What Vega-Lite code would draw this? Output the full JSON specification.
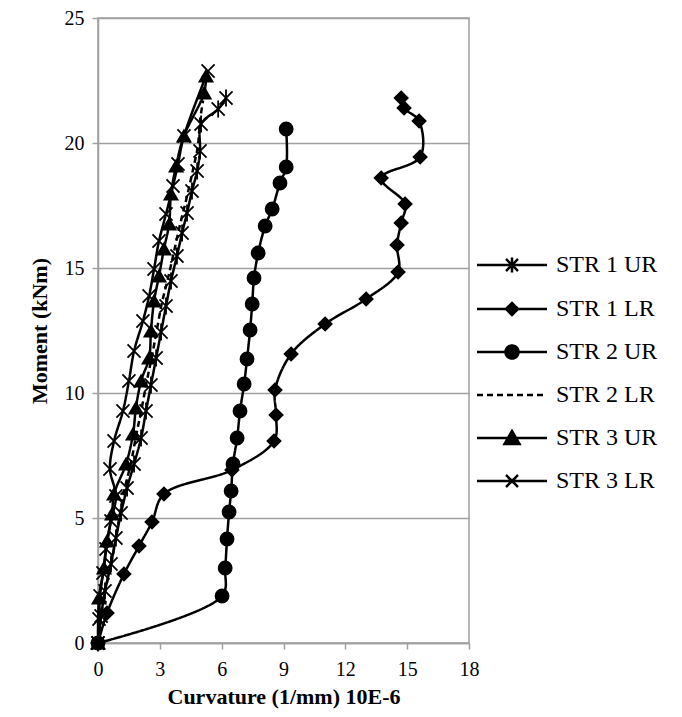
{
  "$schema": "https://vega.github.io/schema/vega-lite/v6.json",
  "width": 371,
  "height": 625,
  "padding": {"left": 28, "top": 8, "right": 5, "bottom": 5},
  "background": "white",
  "config": {
    "font": "Times New Roman, Liberation Serif, DejaVu Serif, serif",
    "view": {"stroke": "#a0a0a0", "strokeWidth": 1.5},
    "axis": {
      "labelFont": "Times New Roman, Liberation Serif, DejaVu Serif, serif",
      "labelFontSize": 20,
      "labelColor": "black",
      "titleFont": "Times New Roman, Liberation Serif, DejaVu Serif, serif",
      "titleFontSize": 22,
      "titleFontWeight": "bold",
      "titleColor": "black",
      "domainColor": "#a0a0a0",
      "domainWidth": 1.5,
      "tickColor": "#a0a0a0",
      "tickWidth": 1.5,
      "tickSize": 6,
      "gridColor": "#a0a0a0",
      "gridWidth": 1.5
    },
    "legend": {
      "labelFont": "Times New Roman, Liberation Serif, DejaVu Serif, serif"
    }
  },
  "data": {
    "values": [
      {"s": "STR 1 UR", "i": 0, "x": 0, "y": 0},
      {"s": "STR 1 UR", "i": 1, "x": 0.15, "y": 1.08},
      {"s": "STR 1 UR", "i": 2, "x": 0.34, "y": 2.08},
      {"s": "STR 1 UR", "i": 3, "x": 0.63, "y": 3.16},
      {"s": "STR 1 UR", "i": 4, "x": 0.87, "y": 4.2},
      {"s": "STR 1 UR", "i": 5, "x": 1.12, "y": 5.2},
      {"s": "STR 1 UR", "i": 6, "x": 1.41, "y": 6.2},
      {"s": "STR 1 UR", "i": 7, "x": 1.75, "y": 7.16},
      {"s": "STR 1 UR", "i": 8, "x": 2.09, "y": 8.2},
      {"s": "STR 1 UR", "i": 9, "x": 2.33, "y": 9.28},
      {"s": "STR 1 UR", "i": 10, "x": 2.57, "y": 10.32},
      {"s": "STR 1 UR", "i": 11, "x": 2.82, "y": 11.4},
      {"s": "STR 1 UR", "i": 12, "x": 3.06, "y": 12.44},
      {"s": "STR 1 UR", "i": 13, "x": 3.3, "y": 13.48},
      {"s": "STR 1 UR", "i": 14, "x": 3.54, "y": 14.48},
      {"s": "STR 1 UR", "i": 15, "x": 3.83, "y": 15.48},
      {"s": "STR 1 UR", "i": 16, "x": 4.08, "y": 16.4},
      {"s": "STR 1 UR", "i": 17, "x": 4.32, "y": 17.2},
      {"s": "STR 1 UR", "i": 18, "x": 4.56, "y": 18.08},
      {"s": "STR 1 UR", "i": 19, "x": 4.81, "y": 18.88},
      {"s": "STR 1 UR", "i": 20, "x": 4.95, "y": 19.68},
      {"s": "STR 1 UR", "i": 21, "x": 5.0, "y": 20.76},
      {"s": "STR 1 UR", "i": 22, "x": 5.83, "y": 21.36},
      {"s": "STR 1 UR", "i": 23, "x": 6.21, "y": 21.8},

      {"s": "STR 1 LR", "i": 0, "x": 0, "y": 0},
      {"s": "STR 1 LR", "i": 1, "x": 0.44, "y": 1.2},
      {"s": "STR 1 LR", "i": 2, "x": 1.26, "y": 2.76},
      {"s": "STR 1 LR", "i": 3, "x": 1.99, "y": 3.88},
      {"s": "STR 1 LR", "i": 4, "x": 2.62, "y": 4.84},
      {"s": "STR 1 LR", "i": 5, "x": 3.2, "y": 5.96},
      {"s": "STR 1 LR", "i": 6, "x": 6.5, "y": 6.92},
      {"s": "STR 1 LR", "i": 7, "x": 8.54, "y": 8.08},
      {"s": "STR 1 LR", "i": 8, "x": 8.64, "y": 9.12},
      {"s": "STR 1 LR", "i": 9, "x": 8.59, "y": 10.12},
      {"s": "STR 1 LR", "i": 10, "x": 9.37, "y": 11.56},
      {"s": "STR 1 LR", "i": 11, "x": 11.02, "y": 12.76},
      {"s": "STR 1 LR", "i": 12, "x": 13.01, "y": 13.76},
      {"s": "STR 1 LR", "i": 13, "x": 14.56, "y": 14.84},
      {"s": "STR 1 LR", "i": 14, "x": 14.51, "y": 15.92},
      {"s": "STR 1 LR", "i": 15, "x": 14.71, "y": 16.8},
      {"s": "STR 1 LR", "i": 16, "x": 14.9, "y": 17.56},
      {"s": "STR 1 LR", "i": 17, "x": 13.74, "y": 18.6},
      {"s": "STR 1 LR", "i": 18, "x": 15.63, "y": 19.44},
      {"s": "STR 1 LR", "i": 19, "x": 15.58, "y": 20.88},
      {"s": "STR 1 LR", "i": 20, "x": 14.85, "y": 21.4},
      {"s": "STR 1 LR", "i": 21, "x": 14.71, "y": 21.8},

      {"s": "STR 2 UR", "i": 0, "x": 0, "y": 0},
      {"s": "STR 2 UR", "i": 1, "x": 6.02, "y": 1.88},
      {"s": "STR 2 UR", "i": 2, "x": 6.17, "y": 3.0},
      {"s": "STR 2 UR", "i": 3, "x": 6.26, "y": 4.16},
      {"s": "STR 2 UR", "i": 4, "x": 6.36, "y": 5.24},
      {"s": "STR 2 UR", "i": 5, "x": 6.46, "y": 6.08},
      {"s": "STR 2 UR", "i": 6, "x": 6.55, "y": 7.16},
      {"s": "STR 2 UR", "i": 7, "x": 6.75, "y": 8.2},
      {"s": "STR 2 UR", "i": 8, "x": 6.89, "y": 9.28},
      {"s": "STR 2 UR", "i": 9, "x": 7.09, "y": 10.36},
      {"s": "STR 2 UR", "i": 10, "x": 7.23, "y": 11.36},
      {"s": "STR 2 UR", "i": 11, "x": 7.38, "y": 12.52},
      {"s": "STR 2 UR", "i": 12, "x": 7.48, "y": 13.56},
      {"s": "STR 2 UR", "i": 13, "x": 7.57, "y": 14.6},
      {"s": "STR 2 UR", "i": 14, "x": 7.77, "y": 15.6},
      {"s": "STR 2 UR", "i": 15, "x": 8.11, "y": 16.68},
      {"s": "STR 2 UR", "i": 16, "x": 8.45, "y": 17.36},
      {"s": "STR 2 UR", "i": 17, "x": 8.83, "y": 18.4},
      {"s": "STR 2 UR", "i": 18, "x": 9.13, "y": 19.04},
      {"s": "STR 2 UR", "i": 19, "x": 9.13, "y": 20.56},

      {"s": "STR 2 LR", "i": 0, "x": 0, "y": 0},
      {"s": "STR 2 LR", "i": 1, "x": 0.3, "y": 1.9},
      {"s": "STR 2 LR", "i": 2, "x": 0.6, "y": 3.0},
      {"s": "STR 2 LR", "i": 3, "x": 0.85, "y": 4.1},
      {"s": "STR 2 LR", "i": 4, "x": 1.05, "y": 5.1},
      {"s": "STR 2 LR", "i": 5, "x": 1.3, "y": 6.2},
      {"s": "STR 2 LR", "i": 6, "x": 1.6, "y": 7.2},
      {"s": "STR 2 LR", "i": 7, "x": 1.85, "y": 8.3},
      {"s": "STR 2 LR", "i": 8, "x": 2.1, "y": 9.3},
      {"s": "STR 2 LR", "i": 9, "x": 2.35, "y": 10.4},
      {"s": "STR 2 LR", "i": 10, "x": 2.6, "y": 11.4},
      {"s": "STR 2 LR", "i": 11, "x": 2.85, "y": 12.5},
      {"s": "STR 2 LR", "i": 12, "x": 3.1, "y": 13.6},
      {"s": "STR 2 LR", "i": 13, "x": 3.4, "y": 14.6},
      {"s": "STR 2 LR", "i": 14, "x": 3.7, "y": 15.7},
      {"s": "STR 2 LR", "i": 15, "x": 4.0, "y": 16.8},
      {"s": "STR 2 LR", "i": 16, "x": 4.3, "y": 17.8},
      {"s": "STR 2 LR", "i": 17, "x": 4.6, "y": 18.9},
      {"s": "STR 2 LR", "i": 18, "x": 4.85, "y": 19.9},
      {"s": "STR 2 LR", "i": 19, "x": 4.95, "y": 20.9},
      {"s": "STR 2 LR", "i": 20, "x": 5.1, "y": 21.7},

      {"s": "STR 3 UR", "i": 0, "x": 0, "y": 0},
      {"s": "STR 3 UR", "i": 1, "x": 0.05, "y": 1.8},
      {"s": "STR 3 UR", "i": 2, "x": 0.29, "y": 3.0},
      {"s": "STR 3 UR", "i": 3, "x": 0.44, "y": 4.08},
      {"s": "STR 3 UR", "i": 4, "x": 0.68, "y": 5.16},
      {"s": "STR 3 UR", "i": 5, "x": 0.78, "y": 5.96},
      {"s": "STR 3 UR", "i": 6, "x": 1.36, "y": 7.16},
      {"s": "STR 3 UR", "i": 7, "x": 1.7, "y": 8.36},
      {"s": "STR 3 UR", "i": 8, "x": 1.84, "y": 9.4},
      {"s": "STR 3 UR", "i": 9, "x": 2.09, "y": 10.48},
      {"s": "STR 3 UR", "i": 10, "x": 2.48, "y": 11.4},
      {"s": "STR 3 UR", "i": 11, "x": 2.57, "y": 12.48},
      {"s": "STR 3 UR", "i": 12, "x": 2.72, "y": 13.68},
      {"s": "STR 3 UR", "i": 13, "x": 2.96, "y": 14.68},
      {"s": "STR 3 UR", "i": 14, "x": 3.2, "y": 15.76},
      {"s": "STR 3 UR", "i": 15, "x": 3.45, "y": 16.76},
      {"s": "STR 3 UR", "i": 16, "x": 3.54, "y": 17.96},
      {"s": "STR 3 UR", "i": 17, "x": 3.79, "y": 19.08},
      {"s": "STR 3 UR", "i": 18, "x": 4.17, "y": 20.28},
      {"s": "STR 3 UR", "i": 19, "x": 5.15, "y": 22.0},
      {"s": "STR 3 UR", "i": 20, "x": 5.24, "y": 22.68},

      {"s": "STR 3 LR", "i": 0, "x": 0, "y": 0},
      {"s": "STR 3 LR", "i": 1, "x": 0.05, "y": 0.96},
      {"s": "STR 3 LR", "i": 2, "x": 0.1, "y": 1.88},
      {"s": "STR 3 LR", "i": 3, "x": 0.24, "y": 2.8},
      {"s": "STR 3 LR", "i": 4, "x": 0.39, "y": 3.76},
      {"s": "STR 3 LR", "i": 5, "x": 0.63, "y": 4.88},
      {"s": "STR 3 LR", "i": 6, "x": 0.87, "y": 5.88},
      {"s": "STR 3 LR", "i": 7, "x": 0.58, "y": 6.96},
      {"s": "STR 3 LR", "i": 8, "x": 0.78, "y": 8.08},
      {"s": "STR 3 LR", "i": 9, "x": 1.21, "y": 9.28},
      {"s": "STR 3 LR", "i": 10, "x": 1.5, "y": 10.48},
      {"s": "STR 3 LR", "i": 11, "x": 1.75, "y": 11.68},
      {"s": "STR 3 LR", "i": 12, "x": 2.18, "y": 12.88},
      {"s": "STR 3 LR", "i": 13, "x": 2.48, "y": 13.88},
      {"s": "STR 3 LR", "i": 14, "x": 2.72, "y": 14.96},
      {"s": "STR 3 LR", "i": 15, "x": 2.96, "y": 16.08},
      {"s": "STR 3 LR", "i": 16, "x": 3.3, "y": 17.16},
      {"s": "STR 3 LR", "i": 17, "x": 3.64, "y": 18.28},
      {"s": "STR 3 LR", "i": 18, "x": 3.88, "y": 19.16},
      {"s": "STR 3 LR", "i": 19, "x": 4.17, "y": 20.28},
      {"s": "STR 3 LR", "i": 20, "x": 5.34, "y": 22.88}
    ]
  },
  "encoding": {
    "x": {
      "field": "x",
      "type": "quantitative",
      "title": "Curvature (1/mm) 10E-6",
      "scale": {"domain": [0, 18], "nice": false, "zero": false},
      "axis": {"values": [0, 3, 6, 9, 12, 15, 18], "grid": false, "labelPadding": 10, "titlePadding": 7, "labelFlush": false}
    },
    "y": {
      "field": "y",
      "type": "quantitative",
      "title": "Moment (kNm)",
      "scale": {"domain": [0, 25], "nice": false, "zero": false},
      "axis": {"values": [0, 5, 10, 15, 20, 25], "grid": true, "labelPadding": 8, "titlePadding": 13, "labelFlush": false}
    }
  },
  "layer": [
    {
      "mark": {"type": "line", "stroke": "black", "interpolate": "catmull-rom"},
      "encoding": {
        "order": {"field": "i", "type": "quantitative"},
        "strokeDash": {
          "field": "s",
          "type": "nominal",
          "scale": {
            "domain": ["STR 1 UR", "STR 1 LR", "STR 2 UR", "STR 2 LR", "STR 3 UR", "STR 3 LR"],
            "range": [[1, 0], [1, 0], [1, 0], [6, 4], [1, 0], [1, 0]]
          },
          "legend": {
            "orient": "none",
            "legendX": 372,
            "legendY": 235,
            "title": null,
            "symbolSize": 100,
            "labelOffset": 62,
            "rowPadding": 19,
            "labelFont": "Times New Roman, Liberation Serif, DejaVu Serif, serif",
            "labelFontSize": 24,
            "labelColor": "black",
            "symbolStrokeWidth": 2.5,
            "symbolStrokeColor": "black",
            "encoding": {
              "symbols": {
                "fill": {"value": "black"},
                "stroke": {"value": "black"},
                "strokeWidth": {"value": 2.5},
                "shape": {"value": {"expr": "datum.value === 'STR 1 UR' ? 'M-1,0H13M4.8,-1.2L7.2,1.2M4.8,1.2L7.2,-1.2M6,-1.5V1.5' : datum.value === 'STR 1 LR' ? 'M-1,0H13M6,-1.2L7.2,0L6,1.2L4.8,0Z' : datum.value === 'STR 2 UR' ? 'M-1,0H13M4.7,0A1.3,1.3 0 1,0 7.3,0A1.3,1.3 0 1,0 4.7,0Z' : datum.value === 'STR 3 UR' ? 'M-1,0H13M6,-1.4L7.5,1.2L4.5,1.2Z' : datum.value === 'STR 3 LR' ? 'M-1,0H13M4.8,-1.2L7.2,1.2M4.8,1.2L7.2,-1.2' : 'M-1,0H13'"}}
              }
            }
          }
        },
        "strokeWidth": {
          "field": "s",
          "type": "nominal",
          "scale": {
            "domain": ["STR 1 UR", "STR 1 LR", "STR 2 UR", "STR 2 LR", "STR 3 UR", "STR 3 LR"],
            "range": [2.5, 2.5, 2.5, 1.5, 2.5, 2.5]
          },
          "legend": null
        }
      }
    },
    {
      "transform": [{"filter": "datum.s !== 'STR 2 LR'"}],
      "mark": {"type": "point", "filled": true, "fill": "black", "stroke": "black", "strokeWidth": 1.8, "opacity": 1, "size": 170},
      "encoding": {
        "shape": {
          "field": "s",
          "type": "nominal",
          "scale": {
            "domain": ["STR 1 UR", "STR 1 LR", "STR 2 UR", "STR 3 UR", "STR 3 LR"],
            "range": ["M-1,-1L1,1M-1,1L1,-1M0,-1.3V1.3", "diamond", "circle", "triangle-up", "M-1,-1L1,1M-1,1L1,-1"]
          },
          "legend": null
        }
      }
    }
  ]
}
